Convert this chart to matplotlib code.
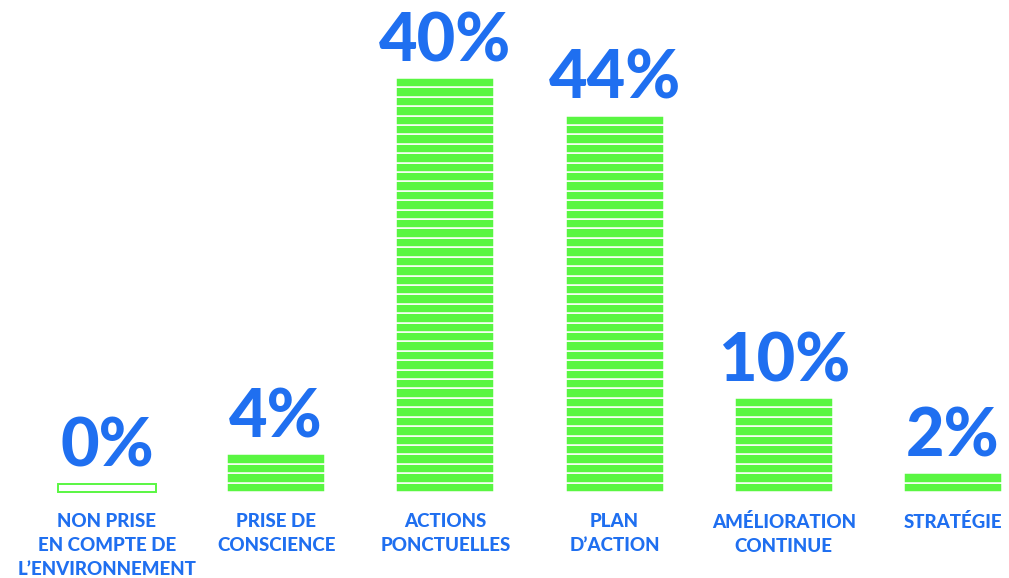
import matplotlib as mpl
import matplotlib.pyplot as plt
import numpy as np

# values
categories = [
    "NON PRISE\nEN COMPTE DE\nL\u2019ENVIRONNEMENT",
    "PRISE DE\nCONSCIENCE",
    "ACTIONS\nPONCTUELLES",
    "PLAN\nD\u2019ACTION",
    "AM\u00c9LIORATION\nCONTINUE",
    "STRAT\u00c9GIE",
]
pct_labels = [0, 4, 40, 44, 10, 2]
# stripe counts actually drawn in the picture (the 40/44 bars are swapped in the source)
bar_heights = [0, 4, 44, 40, 10, 2]

GREEN = "#59F642"
BLUE = "#1F6FF0"

mpl.rcParams.update({"font.family": ["Lato", "DejaVu Sans"]})

fig = plt.figure(figsize=(10.09, 5.78), dpi=100)
ax = fig.add_axes([0, 0, 1, 1])
ax.set_xlim(-0.632, 5.331)
ax.set_ylim(-9.14, 52.28)
ax.axis("off")

x = np.arange(len(categories))
width = 0.579
for xi, h, pct, cat in zip(x, bar_heights, pct_labels, categories):
    if h == 0:
        ax.bar(xi, 0.85, width=width, bottom=0.05, color="white",
               edgecolor=GREEN, linewidth=1.4)
        top = 0.9
    else:
        for k in range(h):
            ax.bar(xi, 1, width=width, bottom=k, color=GREEN,
                   edgecolor="white", linewidth=1.1)
        top = h
    ax.annotate(f"{pct}%", (xi, top), xytext=(0, 12), textcoords="offset points",
                ha="center", va="baseline", fontsize=48, fontweight="black",
                color=BLUE)
    ax.annotate(cat, (xi, 0), xytext=(0, -15), textcoords="offset points",
                ha="center", va="top", fontsize=13.5, fontweight="black",
                color=BLUE, linespacing=1.52)

fig.savefig("out.png", dpi=100)
